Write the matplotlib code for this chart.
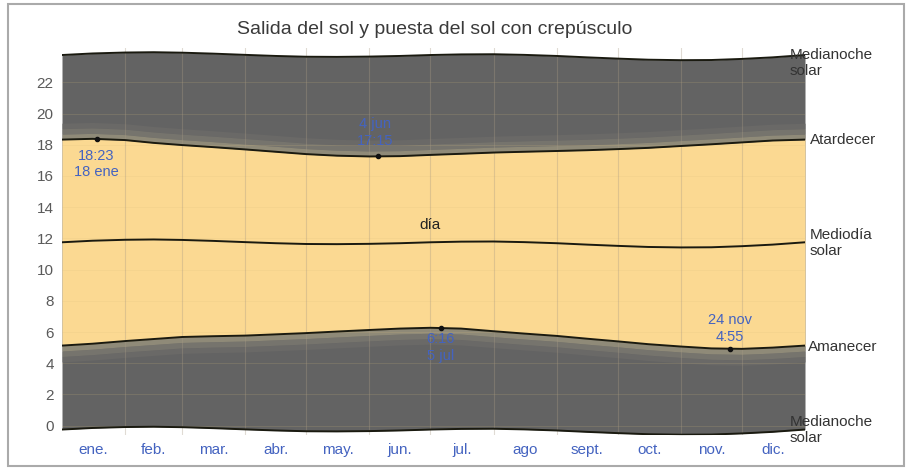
import matplotlib
matplotlib.use("Agg")
import matplotlib.pyplot as plt
from matplotlib.patches import Rectangle
import numpy as np

plt.rcParams['font.family'] = ['Liberation Sans', 'DejaVu Sans']

# ---- data (hours of day, sampled over the year) ----
days = [0, 15, 31, 45, 59, 74, 90, 105, 120, 135, 151, 166, 181, 196, 212, 227,
        243, 258, 273, 288, 304, 319, 334, 349, 365]
sunset = [18.33, 18.38, 18.30, 18.12, 17.98, 17.85, 17.70, 17.55, 17.40, 17.30, 17.25, 17.27, 17.35,
          17.42, 17.50, 17.55, 17.60, 17.65, 17.72, 17.80, 17.92, 18.03, 18.15, 18.27, 18.33]
dusk_civil = [18.68, 18.73, 18.65, 18.47, 18.33, 18.20, 18.05, 17.90, 17.75, 17.65, 17.60, 17.62, 17.70,
              17.77, 17.85, 17.90, 17.95, 18.00, 18.07, 18.15, 18.27, 18.38, 18.50, 18.62, 18.68]
dusk_nautical = [19.03, 19.08, 19.00, 18.82, 18.68, 18.55, 18.40, 18.25, 18.10, 18.00, 17.95, 17.97, 18.05,
                 18.12, 18.20, 18.25, 18.30, 18.35, 18.42, 18.50, 18.62, 18.73, 18.85, 18.97, 19.03]
dusk_astro = [19.38, 19.43, 19.35, 19.17, 19.03, 18.90, 18.75, 18.60, 18.45, 18.35, 18.30, 18.32, 18.40,
              18.47, 18.55, 18.60, 18.65, 18.70, 18.77, 18.85, 18.97, 19.08, 19.20, 19.32, 19.38]
sunrise = [5.13, 5.25, 5.42, 5.55, 5.68, 5.73, 5.77, 5.85, 5.93, 6.03, 6.13, 6.22, 6.27,
           6.22, 6.05, 5.90, 5.75, 5.57, 5.40, 5.22, 5.07, 4.95, 4.92, 5.00, 5.13]
dawn_civil = [4.78, 4.90, 5.07, 5.20, 5.33, 5.38, 5.42, 5.50, 5.58, 5.68, 5.78, 5.87, 5.92,
              5.87, 5.70, 5.55, 5.40, 5.22, 5.05, 4.87, 4.72, 4.60, 4.57, 4.65, 4.78]
dawn_nautical = [4.43, 4.55, 4.72, 4.85, 4.98, 5.03, 5.07, 5.15, 5.23, 5.33, 5.43, 5.52, 5.57,
                 5.52, 5.35, 5.20, 5.05, 4.87, 4.70, 4.52, 4.37, 4.25, 4.22, 4.30, 4.43]
dawn_astro = [4.08, 4.20, 4.37, 4.50, 4.63, 4.68, 4.72, 4.80, 4.88, 4.98, 5.08, 5.17, 5.22,
              5.17, 5.00, 4.85, 4.70, 4.52, 4.35, 4.17, 4.02, 3.90, 3.87, 3.95, 4.08]
solar_noon = [11.75, 11.85, 11.91, 11.93, 11.90, 11.84, 11.76, 11.69, 11.64, 11.63, 11.65, 11.69, 11.75,
              11.79, 11.80, 11.76, 11.69, 11.60, 11.52, 11.45, 11.42, 11.43, 11.50, 11.60, 11.75]
midnight_top = [23.75, 23.85, 23.91, 23.93, 23.90, 23.84, 23.76, 23.69, 23.64, 23.63, 23.65, 23.69, 23.75,
                23.79, 23.80, 23.76, 23.69, 23.60, 23.52, 23.45, 23.42, 23.43, 23.50, 23.60, 23.75]
midnight_bottom = [-0.25, -0.15, -0.09, -0.07, -0.10, -0.16, -0.24, -0.31, -0.36, -0.37, -0.35, -0.31, -0.25,
                   -0.21, -0.20, -0.24, -0.31, -0.40, -0.48, -0.55, -0.58, -0.57, -0.50, -0.40, -0.25]

month_starts = [0, 31, 59, 90, 120, 151, 181, 212, 243, 273, 304, 334, 365]
month_labels = ['ene.', 'feb.', 'mar.', 'abr.', 'may.', 'jun.', 'jul.', 'ago', 'sept.', 'oct.', 'nov.', 'dic.']
y_ticks = [0, 2, 4, 6, 8, 10, 12, 14, 16, 18, 20, 22]

# extremes annotations: (day, hour, text)
ann_sunset_max = (17, 18.38, '18:23\n18 ene')
ann_sunset_min = (155, 17.25, '4 jun\n17:15')
ann_sunrise_max = (186, 6.27, '6:16\n5 jul')
ann_sunrise_min = (328, 4.92, '24 nov\n4:55')

# ---- figure ----
W, H = 909, 470
fig = plt.figure(figsize=(W / 100, H / 100), dpi=100)
ax = fig.add_axes([62 / W, 1 - 435 / H, (805 - 62) / W, (435 - 48) / H])

d = np.array(days, dtype=float)
night = '#636363'
ax.fill_between(d, midnight_bottom, midnight_top, color=night, lw=0, zorder=1)
# twilight bands
tw_cols = ['#6a6967', '#76746d', '#8f8a78']
ax.fill_between(d, dusk_nautical, dusk_astro, color=tw_cols[0], lw=0, zorder=2)
ax.fill_between(d, dusk_civil, dusk_nautical, color=tw_cols[1], lw=0, zorder=2)
ax.fill_between(d, sunset, dusk_civil, color=tw_cols[2], lw=0, zorder=2)
ax.fill_between(d, dawn_nautical, dawn_astro, color=tw_cols[0], lw=0, zorder=2)
ax.fill_between(d, dawn_civil, dawn_nautical, color=tw_cols[1], lw=0, zorder=2)
ax.fill_between(d, sunrise, dawn_civil, color=tw_cols[2], lw=0, zorder=2)
ax.fill_between(d, sunrise, sunset, color='#fbd992', lw=0, zorder=3)

# grid
for m in month_starts[1:-1]:
    ax.axvline(m, color='#a89a85', lw=0.8, alpha=0.35, zorder=4)
for yv in y_ticks:
    ax.axhline(yv, color='#d9bd80', lw=0.6, alpha=0.2, zorder=3.5)

# lines
for series in (sunset, sunrise, solar_noon, midnight_top, midnight_bottom):
    ax.plot(d, series, color='#1a1a10', lw=1.4, zorder=5)

# annotations
lab_col = '#4463c0'
for (dd, hh, txt), (tx, ty, va) in zip(
        [ann_sunset_max, ann_sunset_min, ann_sunrise_max, ann_sunrise_min],
        [(17, 17.75, 'top'), (154, 17.8, 'bottom'), (186, 6.0, 'top'), (328, 5.25, 'bottom')]):
    ax.plot([dd], [hh], 'o', color='#111111', ms=3, zorder=6)
    ax.text(tx, ty, txt, ha='center', va=va, color=lab_col, fontsize=10.5,
            linespacing=1.25, zorder=7)

ax.text(181, 12.4, 'día', ha='center', va='bottom', color='#222222', fontsize=11, zorder=7)

ax.set_xlim(0, 365)
ax.set_ylim(-0.6, 24.2)
ax.set_yticks(y_ticks)
ax.set_yticklabels([str(v) for v in y_ticks], color='#5a5a5a', fontsize=11)
mid = [(month_starts[i] + month_starts[i + 1]) / 2 for i in range(12)]
ax.set_xticks(mid)
ax.set_xticklabels(month_labels, color='#4463c0', fontsize=11)
ax.tick_params(length=0, pad=6)
for s in ax.spines.values():
    s.set_visible(False)

# right side labels (figure pixel coords)
def ftext(x, y, s, **kw):
    fig.text(x / W, 1 - y / H, s, fontsize=11, color='#333333', va='center', ha='left',
             linespacing=1.2, **kw)

ftext(790, 63, 'Medianoche\nsolar')
ftext(810, 140, 'Atardecer')
ftext(810, 243, 'Mediodía\nsolar')
ftext(808, 347, 'Amanecer')
ftext(790, 430, 'Medianoche\nsolar')

fig.text(435 / W, 1 - 30 / H, 'Salida del sol y puesta del sol con crepúsculo',
         ha='center', va='center', fontsize=14, color='#3a3a3a')

fig.patches.append(Rectangle((8 / W, 1 - 466 / H), (904 - 8) / W, (466 - 4) / H,
                             transform=fig.transFigure, fill=False, ec='#aaaaaa', lw=1.5))

fig.savefig('out.png', dpi=100)
